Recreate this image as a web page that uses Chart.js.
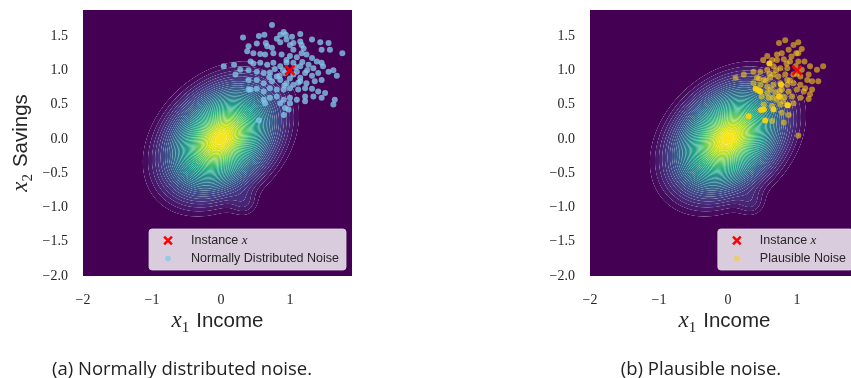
<!DOCTYPE html>
<html>
<head>
<meta charset="utf-8">
<script src="https://cdn.jsdelivr.net/npm/chart.js@4.4.1/dist/chart.umd.min.js"></script>
<style>
html,body{margin:0;padding:0;background:#fff;width:851px;height:378px;overflow:hidden;}
#wrapA{position:absolute;left:0;top:0;}
#wrapB{position:absolute;left:500px;top:0;}
.cap{position:absolute;top:357px;font-family:"Open Sans",sans-serif;font-size:18.5px;color:#222;text-align:center;line-height:22px;white-space:nowrap;}
</style>
</head>
<body>
<div id="wrapA"><canvas id="chartA" width="380" height="378"></canvas></div>
<div id="wrapB"><canvas id="chartB" width="400" height="378"></canvas></div>
<div class="cap" style="left:32px;width:300px;">(a) Normally distributed noise.</div>
<div class="cap" style="left:551px;width:300px;">(b) Plausible noise.</div>
<script>
const xTicks=[-2,-1,0,1];
const yTicks=[-2,-1.5,-1,-0.5,0,0.5,1,1.5];

const instance=[[1,1]];

const normalNoise=[
[0.74,1.66],[0.32,1.48],[0.63,1.52],[0.91,1.56],[0.94,1.52],[1.03,1.49],[1.15,1.53],[0.81,1.46],
[0.40,1.35],[0.52,1.39],[0.65,1.40],[0.74,1.33],[0.86,1.41],[0.95,1.45],[1.00,1.37],[1.05,1.30],
[1.17,1.37],[1.20,1.32],[1.32,1.45],[1.44,1.41],[1.56,1.40],[1.58,1.30],[1.46,1.30],[1.76,1.25],
[0.38,1.28],[0.47,1.25],[0.57,1.24],[0.64,1.23],[0.76,1.25],[0.88,1.23],[1.00,1.21],[1.10,1.19],
[1.17,1.25],[1.24,1.23],[1.32,1.18],[1.39,1.13],[1.46,1.11],[0.43,1.13],[0.47,1.10],[0.57,1.11],
[0.67,1.08],[0.76,1.11],[0.86,1.06],[0.95,1.11],[1.05,1.11],[1.15,1.06],[1.27,1.08],[1.34,1.03],
[1.48,1.06],[1.63,1.00],[1.68,0.92],[0.04,1.06],[0.21,0.94],[0.28,1.01],[0.40,1.00],[0.52,0.98],
[0.62,0.96],[0.71,0.97],[0.81,0.91],[0.93,0.96],[1.05,0.94],[1.15,0.89],[1.22,0.96],[1.32,0.92],
[1.41,0.96],[1.56,0.98],[0.19,1.08],[0.40,0.86],[0.52,0.86],[0.62,0.81],[0.74,0.84],[0.86,0.86],
[0.95,0.81],[1.05,0.79],[1.15,0.84],[1.24,0.81],[1.36,0.84],[1.46,0.86],[0.43,0.72],[0.52,0.73],
[0.62,0.69],[0.71,0.74],[0.81,0.72],[0.91,0.72],[1.00,0.74],[1.12,0.72],[1.22,0.74],[1.32,0.73],
[1.41,0.69],[1.51,0.67],[0.62,0.57],[0.71,0.60],[0.81,0.62],[0.91,0.57],[1.00,0.60],[1.10,0.57],
[1.22,0.62],[1.34,0.62],[1.46,0.60],[1.65,0.57],[1.63,0.50],[0.64,0.52],[0.86,0.52],[1.00,0.52],
[1.22,0.55],[0.93,0.45],[0.91,0.35],[0.98,0.43],[0.55,0.27],[0.40,0.72],[0.67,1.35],[0.55,1.50],
[0.86,1.52],[1.05,1.40],[1.15,1.42],[0.90,1.00],[1.10,0.98],[0.95,1.15],[1.08,1.05],[0.85,0.92],
[1.18,1.12],[0.78,1.02],[1.00,0.88],[0.92,0.78],[1.12,0.82],[0.70,0.90],[1.25,1.00]
];

const plausibleNoise=[
[0.83,1.44],[0.74,1.40],[0.95,1.37],[1.02,1.41],[1.07,1.31],[0.99,1.25],[0.88,1.30],[0.78,1.25],
[0.71,1.23],[0.64,1.15],[0.57,1.21],[0.51,1.15],[0.71,1.15],[0.81,1.16],[0.90,1.13],[1.02,1.13],
[1.11,1.13],[1.19,1.06],[1.38,1.06],[1.29,1.01],[1.17,0.94],[1.07,1.01],[0.98,1.06],[0.86,1.03],
[0.76,1.03],[0.66,1.06],[0.57,1.01],[0.47,0.98],[0.37,0.98],[0.23,0.94],[0.11,0.89],[0.42,0.89],
[0.52,0.86],[0.61,0.89],[0.73,0.91],[0.83,0.94],[0.95,0.94],[1.05,0.91],[1.15,0.86],[1.22,0.84],
[1.31,0.84],[0.37,0.81],[0.47,0.79],[0.57,0.76],[0.66,0.79],[0.76,0.81],[0.86,0.79],[0.95,0.81],
[1.05,0.79],[1.12,0.74],[1.22,0.72],[0.57,0.67],[0.69,0.68],[0.78,0.72],[0.88,0.69],[1.00,0.72],
[1.10,0.69],[1.19,0.65],[0.49,0.62],[0.59,0.60],[0.71,0.57],[0.82,0.61],[0.93,0.62],[1.05,0.60],
[1.17,0.58],[0.52,0.50],[0.64,0.48],[0.76,0.50],[0.95,0.52],[0.78,0.38],[0.88,0.35],[0.64,0.26],
[0.81,0.24],[1.02,0.05],[0.76,0.62],[0.86,0.86],[0.66,0.94],[1.02,1.25],[0.70,1.00],[0.85,1.10],
[0.60,0.95],[0.90,0.85],[0.55,0.85],[0.75,0.70],[0.65,0.60],[1.00,0.95],[0.80,0.55],[0.45,0.88],
[0.62,0.72],[0.92,1.20]
];

const plausibleBright=[
[0.60,1.10],[0.40,0.73],[0.47,0.69],[0.44,0.71],[0.86,0.49],[0.66,0.43],[0.52,0.43],[0.48,0.42],
[0.30,0.33],[0.54,0.27],[0.77,0.79],[0.87,0.49],[0.74,0.62]
];

// KDE background, approximated by a few gaussian bumps
const kdeMeanX=[0,0,0.35];
const kdeMeanY=[0,0,-0.95];
const kdeSd=[0.30,0.49,0.14];
const kdeRho=[0.35,0.3,0];
const kdeWeight=[1,1,0.08];
const kdeLevels=45;
const kdeThresh=0.05;

const vir=['#440154','#48186a','#472d7b','#424086','#3b528b','#33638d','#2c728e','#26828e','#21918c',
'#1fa088','#28ae80','#3fbc73','#5ec962','#84d44b','#addc30','#d8e219','#fde725']
.map(h=>[parseInt(h.slice(1,3),16),parseInt(h.slice(3,5),16),parseInt(h.slice(5,7),16)]);

function viridis(t){
let f=Math.max(0,Math.min(1,t))*(vir.length-1);
let i=Math.min(vir.length-2,Math.floor(f));
let u=f-i;
return [0,1,2].map(c=>vir[i][c]+(vir[i+1][c]-vir[i][c])*u);
}

function kde(px,py){
let s=0;
for(let k=0;k<kdeWeight.length;k++){
let dx=(px-kdeMeanX[k])/kdeSd[k], dy=(py-kdeMeanY[k])/kdeSd[k], r=kdeRho[k];
let z=(dx*dx-2*r*dx*dy+dy*dy)/(1-r*r);
s+=kdeWeight[k]*Math.exp(-z/2);
}
return s;
}

function fmt(v,dec){
let s=dec?v.toFixed(1):String(v);
return s.replace("-","\u2212");
}

// iso-proportion levels like seaborn: level = share of mass below the local density
const kdeBackground={
id:"kdeBackground",
beforeDatasetsDraw(chart){
const {ctx,chartArea:a,scales:{x,y}}=chart;
const w=Math.round(a.width), h=Math.round(a.height), n=w*h;
const off=document.createElement("canvas");
off.width=w; off.height=h;
const octx=off.getContext("2d");
const img=octx.createImageData(w,h);
const dens=new Float64Array(n);
let total=0;
for(let j=0;j<h;j++){
let vy=y.getValueForPixel(a.top+j+0.5);
for(let i=0;i<w;i++){
let d=kde(x.getValueForPixel(a.left+i+0.5),vy);
dens[j*w+i]=d; total+=d;
}
}
const order=Array.from({length:n},(_,k)=>k).sort((p,q)=>dens[p]-dens[q]);
const f=new Float64Array(n);
let cum=0;
for(const k of order){
cum+=dens[k];
f[k]=(cum/total-kdeThresh)/(1-kdeThresh)*kdeLevels;
}
for(let j=0;j<h;j++){
for(let i=0;i<w;i++){
let k=j*w+i, v=f[k];
let band=(Math.min(kdeLevels-1,Math.floor(v))+0.5)/kdeLevels;
let c=v<0?vir[0]:viridis(Math.pow(band,0.8));
let gx=(f[j*w+Math.min(w-1,i+1)]-f[j*w+Math.max(0,i-1)])/2;
let gy=(f[Math.min(h-1,j+1)*w+i]-f[Math.max(0,j-1)*w+i])/2;
let g=Math.hypot(gx,gy)+1e-9;
let r=Math.round(v);
let m=0;
if(r>=0&&r<kdeLevels){
let dist=Math.abs(v-r)/g;
m=0.36*Math.max(0,1-dist/0.45);
}
img.data[k*4]=c[0]+(255-c[0])*m;
img.data[k*4+1]=c[1]+(255-c[1])*m;
img.data[k*4+2]=c[2]+(255-c[2])*m;
img.data[k*4+3]=255;
}
}
octx.putImageData(img,0,0);
ctx.drawImage(off,a.left,a.top);
}
};

function labelWidth(ctx,d){
ctx.font='12.5px "Liberation Sans"';
let w=ctx.measureText(d.label+(d.math?" ":"")).width;
if(d.math){ctx.font='italic 13px "Liberation Serif"';w+=ctx.measureText(d.math).width;}
return w;
}

const boxLegend={
id:"boxLegend",
afterDatasetsDraw(chart){
const {ctx,chartArea:a}=chart;
const items=chart.data.datasets.filter(d=>d.inLegend);
ctx.save();
let tw=Math.max(...items.map(d=>labelWidth(ctx,d)));
let bw=42+tw+7, bh=41;
let bx=a.right-6-bw, by=a.bottom-6-bh;
ctx.beginPath();
ctx.roundRect(bx,by,bw,bh,3);
ctx.fillStyle="rgba(255,255,255,0.8)";
ctx.fill();
ctx.strokeStyle="rgba(220,220,220,0.8)";
ctx.lineWidth=1;
ctx.stroke();
items.forEach((d,i)=>{
let cy=by+11.5+i*18;
ctx.fillStyle=d.pointBackgroundColor;
ctx.strokeStyle=d.pointBorderColor;
ctx.lineWidth=d.legendBorder||0.01;
Chart.helpers.drawPoint(ctx,{pointStyle:d.pointStyle,radius:d.legendRadius,borderWidth:d.legendBorder||0},bx+19,cy);
ctx.fillStyle="#262626";
ctx.textBaseline="middle";
ctx.textAlign="left";
ctx.font='12.5px "Liberation Sans"';
let t=d.label+(d.math?" ":"");
ctx.fillText(t,bx+42,cy);
if(d.math){
let w=ctx.measureText(t).width;
ctx.font='italic 13px "Liberation Serif"';
ctx.fillText(d.math,bx+42+w,cy);
}
});
ctx.restore();
}
};

function drawMathLabel(ctx,sym,sub,word){
ctx.font='italic 23px "Liberation Serif"';
let w1=ctx.measureText(sym).width;
ctx.font='15px "Liberation Serif"';
let w2=ctx.measureText(sub).width;
ctx.font='20.5px "Liberation Sans"';
let w3=ctx.measureText(word).width;
let gap=7;
let x0=-(w1+w2+gap+w3)/2;
ctx.textBaseline="alphabetic";
ctx.textAlign="left";
ctx.fillStyle="#262626";
ctx.font='italic 23px "Liberation Serif"';
ctx.fillText(sym,x0,0);
ctx.font='15px "Liberation Serif"';
ctx.fillText(sub,x0+w1,5);
ctx.font='20.5px "Liberation Sans"';
ctx.fillText(word,x0+w1+w2+gap,0);
}

const axisTitles={
id:"axisTitles",
afterDraw(chart,args,o){
const {ctx,chartArea:a}=chart;
ctx.save();
ctx.translate((a.left+a.right)/2,327);
drawMathLabel(ctx,"x","1","Income");
ctx.restore();
if(o.yTitle){
ctx.save();
ctx.translate(27,(a.top+a.bottom)/2);
ctx.rotate(-Math.PI/2);
drawMathLabel(ctx,"x","2","Savings");
ctx.restore();
}
}
};

function toXY(arr){
return arr.map(p=>({x:p[0],y:p[1]}));
}

function makeChart(id,yWidth,rightPad,yTitle,datasets){
const tickFont={family:'"Liberation Serif"',size:14};
return new Chart(document.getElementById(id),{
type:"scatter",
data:{datasets:datasets},
options:{
responsive:false,
animation:false,
events:[],
layout:{padding:{top:10,right:rightPad,left:0,bottom:0}},
plugins:{legend:{display:false},tooltip:{enabled:false},axisTitles:{yTitle:yTitle}},
scales:{
x:{
type:"linear",min:-2,max:1.9,
grid:{display:false,drawTicks:false},
border:{display:false},
afterBuildTicks:s=>{s.ticks=xTicks.map(v=>({value:v}));},
afterFit:s=>{s.height=102;s.paddingLeft=0;s.paddingRight=0;},
ticks:{padding:16,color:"#262626",font:tickFont,maxRotation:0,autoSkip:false,callback:v=>fmt(v,false)}
},
y:{
type:"linear",min:-2,max:1.88,
grid:{display:false,drawTicks:false},
border:{display:false},
afterBuildTicks:s=>{s.ticks=yTicks.map(v=>({value:v}));},
afterFit:s=>{s.width=yWidth;s.paddingTop=0;s.paddingBottom=0;},
ticks:{padding:15,color:"#262626",font:tickFont,autoSkip:false,callback:v=>fmt(v,true)}
}
}
},
plugins:[kdeBackground,boxLegend,axisTitles]
});
}

function instanceSet(){
return {label:"Instance",math:"x",inLegend:true,data:toXY(instance),
pointStyle:"crossRot",pointRadius:6.5,legendRadius:5.5,pointBorderWidth:2.5,legendBorder:2.5,
pointBorderColor:"#ff0000",pointBackgroundColor:"#ff0000"};
}

makeChart("chartA",83,28,true,[
instanceSet(),
{label:"Normally Distributed Noise",inLegend:true,data:toXY(normalNoise),
pointStyle:"circle",pointRadius:3,legendRadius:2.8,pointBorderWidth:0,
pointBorderColor:"rgba(0,0,0,0)",pointBackgroundColor:"rgba(130,200,235,0.78)"}
]);

makeChart("chartB",90,41,false,[
instanceSet(),
{label:"Plausible Noise",inLegend:true,data:toXY(plausibleNoise),
pointStyle:"circle",pointRadius:3,legendRadius:2.8,pointBorderWidth:0,
pointBorderColor:"rgba(0,0,0,0)",pointBackgroundColor:"rgba(245,205,25,0.6)"},
{label:"",data:toXY(plausibleBright),
pointStyle:"circle",pointRadius:3,pointBorderWidth:0,
pointBorderColor:"rgba(0,0,0,0)",pointBackgroundColor:"rgba(250,210,15,0.95)"}
]);
</script>
</body>
</html>
